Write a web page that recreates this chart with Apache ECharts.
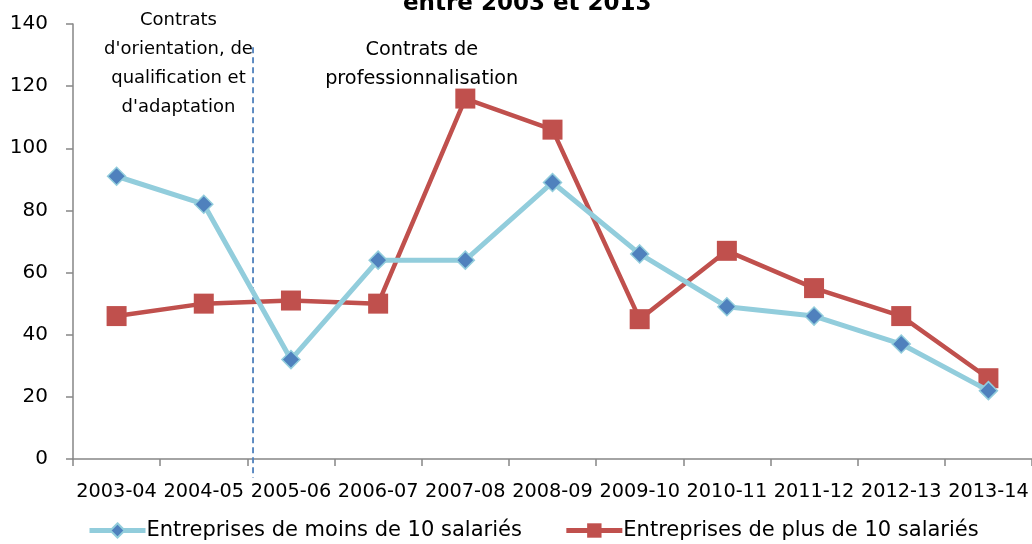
<!DOCTYPE html>
<html>
<head>
<meta charset="utf-8">
<script src="https://cdn.jsdelivr.net/npm/echarts@6/dist/echarts.min.js"></script>
<style>html,body{margin:0;padding:0;background:#fff}#c{width:1032px;height:544px}</style>
</head>
<body>
<div id="c"></div>
<script>
const categories = ['2003-04','2004-05','2005-06','2006-07','2007-08','2008-09','2009-10','2010-11','2011-12','2012-13','2013-14'];
const moins10 = [91, 82, 32, 64, 64, 89, 66, 49, 46, 37, 22];
const plus10 = [46, 50, 51, 50, 116, 106, 45, 67, 55, 46, 26];
const seriesNames = ['Entreprises de moins de 10 salariés', 'Entreprises de plus de 10 salariés'];
const yTicks = {min: 0, max: 140, interval: 20};
const reformPosition = 2.065; // between 2004-05 and 2005-06 (category index scale)
const reformSpan = [132.5, -6];
const titleText = 'entre 2003 et 2013';
const noteLeft = 'Contrats\nd\'orientation, de\nqualification et\nd\'adaptation';
const noteRight = 'Contrats de\nprofessionnalisation';

const FONT = 'DejaVu Sans';
const chart = echarts.init(document.getElementById('c'), null, {renderer: 'canvas'});
chart.setOption({
  animation: false,
  backgroundColor: '#ffffff',
  textStyle: {fontFamily: FONT},
  title: {
    text: titleText, left: 398, top: -12,
    textStyle: {fontFamily: FONT, fontSize: 23, fontWeight: 'bold', color: '#000'}
  },
  grid: {left: 73, right: -1, top: 24, bottom: 85, containLabel: false},
  legend: {
    data: seriesNames,
    left: 82, top: 515,
    itemWidth: 56, itemHeight: 18, itemGap: 42,
    lineStyle: {width: 5},
    textStyle: {fontFamily: FONT, fontSize: 21, color: '#000', padding: [0,0,0,-4]}
  },
  xAxis: [{
    type: 'category', data: categories, boundaryGap: true,
    axisLine: {lineStyle: {color: '#868686', width: 1.5}},
    axisTick: {show: true, length: 7, alignWithLabel: false, lineStyle: {color: '#868686', width: 1.5}},
    axisLabel: {fontFamily: FONT, fontSize: 19.3, color: '#000', margin: 23, interval: 0}
  }, {
    type: 'value', min: 0, max: categories.length, show: false
  }],
  yAxis: {
    type: 'value', min: yTicks.min, max: yTicks.max, interval: yTicks.interval,
    axisLine: {show: true, lineStyle: {color: '#868686', width: 1.5}},
    axisTick: {show: true, length: 7, lineStyle: {color: '#868686', width: 1.5}},
    splitLine: {show: false},
    axisLabel: {fontFamily: FONT, fontSize: 20, color: '#000', margin: 25}
  },
  series: [{
    name: seriesNames[0], type: 'line', data: moins10,
    symbol: 'diamond', symbolSize: 18,
    lineStyle: {color: '#92CDDC', width: 5},
    itemStyle: {color: '#4F81BD', borderColor: '#92CDDC', borderWidth: 1.5},
    z: 3
  }, {
    name: seriesNames[1], type: 'line', data: plus10,
    symbol: 'rect', symbolSize: 20,
    lineStyle: {color: '#C0504D', width: 4.5},
    itemStyle: {color: '#C0504D', borderColor: '#C0504D', borderWidth: 0},
    z: 2
  }, {
    name: 'reform', type: 'line', xAxisIndex: 1, clip: false, silent: true,
    data: [[reformPosition, reformSpan[0]], [reformPosition, reformSpan[1]]],
    symbol: 'none',
    lineStyle: {color: '#4F81BD', width: 1.8, type: [6,4]},
    z: 1
  }]
});
const p1 = chart.convertToPixel({xAxisIndex: 1, yAxisIndex: 0}, [1.21, 140]);
const p2 = chart.convertToPixel({xAxisIndex: 1, yAxisIndex: 0}, [4.0, 140]);
chart.setOption({graphic: [{
  type: 'text', x: p1[0], y: 6, z: 10,
  style: {text: noteLeft, font: '18px "DejaVu Sans"', fill: '#000', align: 'center', verticalAlign: 'top', lineHeight: 29}
}, {
  type: 'text', x: p2[0], y: 35, z: 10,
  style: {text: noteRight, font: '19.3px "DejaVu Sans"', fill: '#000', align: 'center', verticalAlign: 'top', lineHeight: 29}
}]});
</script>
</body>
</html>
